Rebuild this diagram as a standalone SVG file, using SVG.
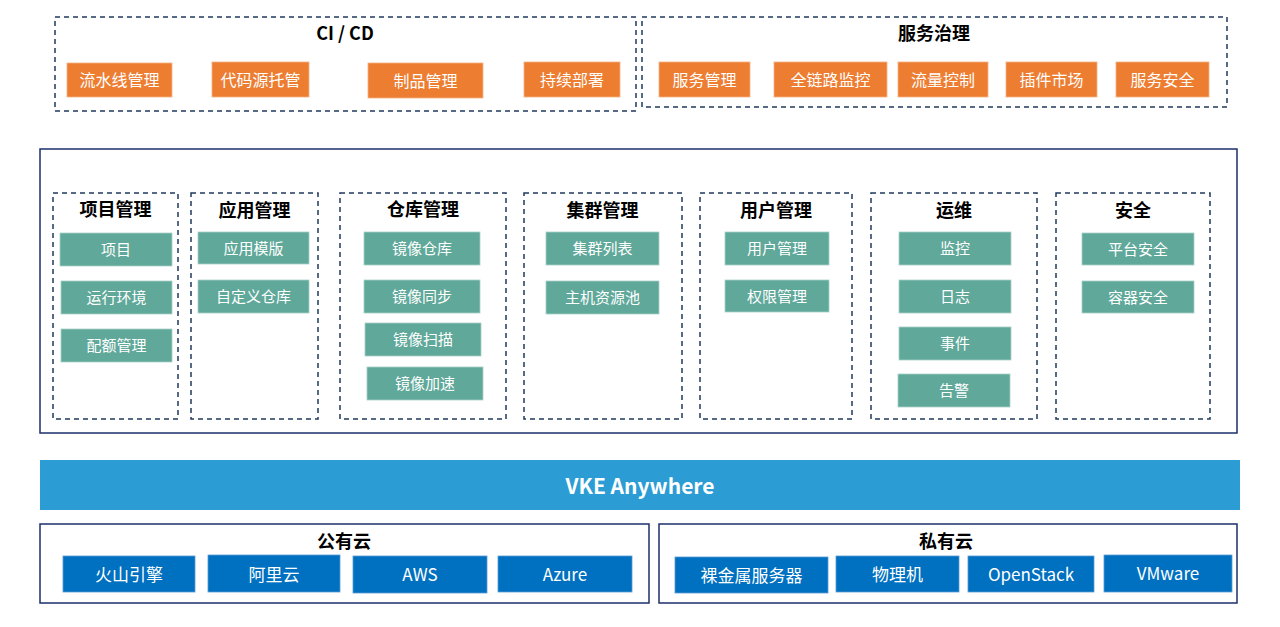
<svg xmlns="http://www.w3.org/2000/svg" width="1280" height="627" viewBox="0 0 1280 627">
<style>
text{font-family:"Noto Sans CJK SC","Liberation Sans",sans-serif;text-anchor:middle;dominant-baseline:central}
.dash{fill:#fff;stroke:#1f3a5f;stroke-width:1.5;stroke-dasharray:5,4}
.solid{fill:#fff;stroke:#1c2f6b;stroke-width:1.5}
.or{fill:#ed7d31;stroke:#f4b183;stroke-width:0.8}
.gr{fill:#5fa89a;stroke:#a9d1c9;stroke-width:0.8}
.bl{fill:#0070c0;stroke:#5b9bd5;stroke-width:0.8}
.t{font-size:18px;font-weight:bold;fill:#000}
.ot{font-size:16px;fill:#fff}
.gt{font-size:15px;fill:#fff}
.bt{font-size:17px;fill:#fff}
</style>
<rect width="1280" height="627" fill="#fff"/>
<g id="cicd">
<rect class="dash" x="55" y="17" width="581" height="94"/>
<text class="t" x="345" y="32">CI / CD</text>
<rect class="or" x="67" y="63" width="105" height="34"/><text class="ot" x="119.5" y="79">流水线管理</text>
<rect class="or" x="212" y="62" width="97" height="35"/><text class="ot" x="260.5" y="78.5">代码源托管</text>
<rect class="or" x="368" y="63" width="115" height="35"/><text class="ot" x="425.5" y="79.5">制品管理</text>
<rect class="or" x="524" y="62" width="96" height="35"/><text class="ot" x="572" y="78.5">持续部署</text>
</g>
<g id="svcgov">
<rect class="dash" x="642" y="17" width="585" height="90"/>
<text class="t" x="934" y="32">服务治理</text>
<rect class="or" x="659" y="62" width="91" height="35"/><text class="ot" x="704.5" y="78.5">服务管理</text>
<rect class="or" x="774" y="62" width="113" height="35"/><text class="ot" x="830.5" y="78.5">全链路监控</text>
<rect class="or" x="898" y="62" width="90" height="35"/><text class="ot" x="943" y="78.5">流量控制</text>
<rect class="or" x="1006" y="62" width="91" height="35"/><text class="ot" x="1051.5" y="78.5">插件市场</text>
<rect class="or" x="1116" y="62" width="93" height="35"/><text class="ot" x="1162.5" y="78.5">服务安全</text>
</g>
<g id="platform">
<rect class="solid" x="40" y="149" width="1197" height="284"/>
</g>
<g id="proj">
<rect class="dash" x="53" y="193" width="125" height="226"/>
<text class="t" x="115.5" y="208">项目管理</text>
<rect class="gr" x="60" y="233" width="112" height="33"/><text class="gt" x="116" y="248.5">项目</text>
<rect class="gr" x="61" y="281" width="111" height="33"/><text class="gt" x="116.5" y="296.5">运行环境</text>
<rect class="gr" x="61" y="329" width="111" height="33"/><text class="gt" x="116.5" y="344.5">配额管理</text>
</g>
<g id="app">
<rect class="dash" x="191" y="193" width="127" height="226"/>
<text class="t" x="254.5" y="209">应用管理</text>
<rect class="gr" x="198" y="232" width="111" height="32"/><text class="gt" x="253.5" y="247">应用模版</text>
<rect class="gr" x="198" y="280" width="111" height="33"/><text class="gt" x="253.5" y="295.5">自定义仓库</text>
</g>
<g id="repo">
<rect class="dash" x="340" y="193" width="166" height="226"/>
<text class="t" x="423" y="208">仓库管理</text>
<rect class="gr" x="364" y="232" width="116" height="33"/><text class="gt" x="422" y="247.5">镜像仓库</text>
<rect class="gr" x="364" y="280" width="116" height="33"/><text class="gt" x="422" y="295.5">镜像同步</text>
<rect class="gr" x="365" y="323" width="116" height="33"/><text class="gt" x="423" y="338.5">镜像扫描</text>
<rect class="gr" x="367" y="367" width="116" height="33"/><text class="gt" x="425" y="382.5">镜像加速</text>
</g>
<g id="cluster">
<rect class="dash" x="524" y="193" width="158" height="226"/>
<text class="t" x="602.5" y="209">集群管理</text>
<rect class="gr" x="546" y="232" width="113" height="33"/><text class="gt" x="602.5" y="247.5">集群列表</text>
<rect class="gr" x="546" y="281" width="113" height="33"/><text class="gt" x="602.5" y="296.5">主机资源池</text>
</g>
<g id="user">
<rect class="dash" x="700" y="193" width="152" height="226"/>
<text class="t" x="776" y="209">用户管理</text>
<rect class="gr" x="725" y="232" width="104" height="33"/><text class="gt" x="777" y="247.5">用户管理</text>
<rect class="gr" x="725" y="280" width="104" height="32"/><text class="gt" x="777" y="295">权限管理</text>
</g>
<g id="ops">
<rect class="dash" x="871" y="193" width="166" height="226"/>
<text class="t" x="954" y="209">运维</text>
<rect class="gr" x="899" y="232" width="112" height="33"/><text class="gt" x="955" y="247.5">监控</text>
<rect class="gr" x="899" y="280" width="112" height="33"/><text class="gt" x="955" y="295.5">日志</text>
<rect class="gr" x="899" y="327" width="112" height="33"/><text class="gt" x="955" y="342.5">事件</text>
<rect class="gr" x="898" y="374" width="112" height="33"/><text class="gt" x="954" y="389.5">告警</text>
</g>
<g id="sec">
<rect class="dash" x="1056" y="193" width="154" height="226"/>
<text class="t" x="1133" y="209">安全</text>
<rect class="gr" x="1082" y="233" width="112" height="32"/><text class="gt" x="1138" y="248">平台安全</text>
<rect class="gr" x="1082" y="281" width="112" height="32"/><text class="gt" x="1138" y="296">容器安全</text>
</g>
<g id="vke">
<rect x="40" y="460" width="1200" height="50" fill="#2b9cd4"/>
<text x="640" y="485" font-size="21" font-weight="bold" fill="#fff">VKE Anywhere</text>
</g>
<g id="public">
<rect class="solid" x="40" y="524" width="609" height="79"/>
<text class="t" x="344" y="540">公有云</text>
<rect class="bl" x="63" y="556" width="132" height="36"/><text class="bt" x="129" y="573">火山引擎</text>
<rect class="bl" x="208" y="555" width="132" height="37"/><text class="bt" x="274" y="573">阿里云</text>
<rect class="bl" x="353" y="556" width="134" height="37"/><text class="bt" x="420" y="573.5">AWS</text>
<rect class="bl" x="498" y="556" width="134" height="36"/><text class="bt" x="565" y="573">Azure</text>
</g>
<g id="private">
<rect class="solid" x="659" y="524" width="578" height="79"/>
<text class="t" x="946" y="540">私有云</text>
<rect class="bl" x="675" y="557" width="153" height="36"/><text class="bt" x="751.5" y="574">裸金属服务器</text>
<rect class="bl" x="836" y="556" width="123" height="36"/><text class="bt" x="897.5" y="573">物理机</text>
<rect class="bl" x="968" y="556" width="126" height="36"/><text class="bt" x="1031" y="573">OpenStack</text>
<rect class="bl" x="1104" y="555" width="128" height="37"/><text class="bt" x="1168" y="572.5">VMware</text>
</g>
<g id="connectors"></g>
</svg>
